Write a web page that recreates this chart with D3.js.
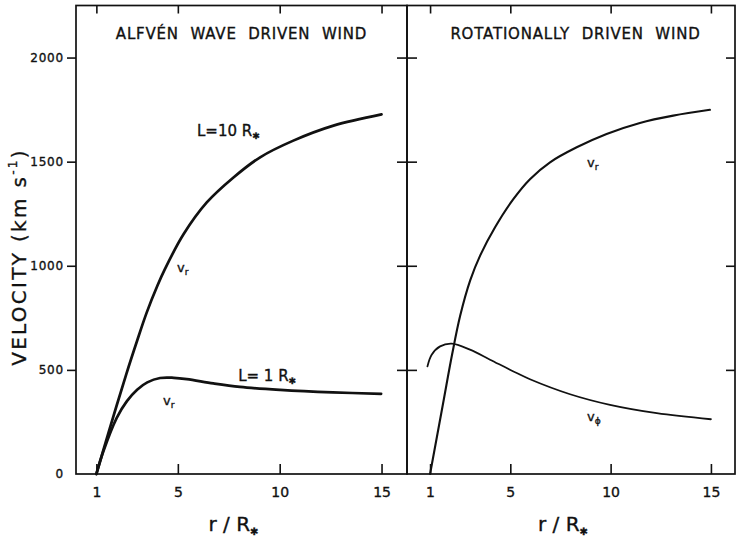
<!DOCTYPE html>
<html lang="en">
<head>
<meta charset="UTF-8">
<title>Velocity vs r / R*</title>
<script src="https://cdn.jsdelivr.net/npm/d3@7"></script>
<style>
    body { margin: 0; background: #fff; }
    svg { display: block; }
    .curve { fill: none; stroke: #111; stroke-linejoin: round; stroke-linecap: round; }
    text { font-family: "DejaVu Sans", sans-serif; fill: #111; stroke: #111; stroke-width: 0.35px; }
</style>
</head>
<body>
<script>
// tick labels
var xTicks = [1, 5, 10, 15];
var yTicks = [0, 500, 1000, 1500, 2000];

// Alfven wave driven wind, L = 10 R*
var rAlf10 = [1, 1.6, 2.47, 3.0, 3.47, 4.0, 4.37, 5.27, 6.42, 7.73, 9.04, 10.67, 12.64, 15.0];
var vAlf10 = [0, 200, 480, 640, 775, 905, 985, 1150, 1304, 1424, 1521, 1601, 1673, 1727];

// Alfven wave driven wind, L = 1 R*
var rAlf1 = [1, 1.34, 2.0, 2.5, 3.0, 3.5, 4.13, 4.8, 5.44, 6.74, 8.05, 10.02, 12.6, 14.98];
var vAlf1 = [0, 108, 270, 350, 405, 440, 461, 462, 456, 435, 418, 404, 392, 385];

// rotationally driven wind, v_r
var rRotR = [1, 1.65, 2.1, 2.5, 3.0, 3.5, 4.24, 5.15, 5.98, 6.98, 8.31, 9.80, 11.46, 13.12, 14.95];
var vRotR = [0, 340, 575, 760, 930, 1050, 1185, 1320, 1416, 1497, 1569, 1633, 1686, 1721, 1749];

// rotationally driven wind, v_phi
var rRotP = [0.87, 1.08, 1.5, 2.08, 2.99, 3.99, 5.32, 5.98, 7.98, 9.97, 12.3, 15.0];
var vRotP = [517, 573, 613, 626, 597, 549, 485, 455, 383, 332, 292, 263];

function zip(rs, vs) {
    return rs.map(function (r, i) { return [r, vs[i]]; });
}

var width = 737, height = 540;
var yTop = 5.5, yBottom = 474;

var svg = d3.select('body').append('svg')
    .attr('width', width)
    .attr('height', height);

var y = d3.scaleLinear().domain([0, 2250]).range([yBottom, yTop]);

var panels = [
    {
        x: d3.scaleLinear().domain([0, 16.25]).range([76, 407]),
        title: 'ALFVÉN WAVE DRIVEN WIND',
        titleX: 241.5,
        curves: [
            { pts: zip(rAlf10, vAlf10), w: 2.7 },
            { pts: zip(rAlf1, vAlf1), w: 2.7 }
        ],
        outerLeft: true
    },
    {
        x: d3.scaleLinear().domain([-0.15, 16.2]).range([407, 735]),
        title: 'ROTATIONALLY DRIVEN WIND',
        titleX: 575.5,
        curves: [
            { pts: zip(rRotR, vRotR), w: 2.1 },
            { pts: zip(rRotP, vRotP), w: 1.8 }
        ],
        outerLeft: false
    }
];

panels.forEach(function (p) {
    var x = p.x;
    var x0 = x.range()[0], x1 = x.range()[1];
    var g = svg.append('g');

    // frame
    g.append('rect')
        .attr('x', x0).attr('y', yTop)
        .attr('width', x1 - x0).attr('height', yBottom - yTop)
        .attr('fill', 'none').attr('stroke', '#111').attr('stroke-width', 1.7);

    // bottom ticks point up into the frame
    var gb = g.append('g')
        .attr('transform', 'translate(0,' + yBottom + ')')
        .call(d3.axisBottom(x).tickValues(xTicks).tickSize(-10).tickSizeOuter(0).tickPadding(13));
    gb.select('.domain').remove();

    // top ticks point down
    var gt = g.append('g')
        .attr('transform', 'translate(0,' + yTop + ')')
        .call(d3.axisTop(x).tickValues(xTicks).tickSize(-8).tickSizeOuter(0).tickFormat(''));
    gt.select('.domain').remove();

    // left side
    var gl = g.append('g')
        .attr('transform', 'translate(' + x0 + ',0)')
        .call(p.outerLeft
            ? d3.axisLeft(y).tickValues(yTicks).tickSize(9).tickSizeOuter(0).tickPadding(3).tickFormat(d3.format('d'))
            : d3.axisRight(y).tickValues(yTicks.slice(1)).tickSize(10).tickSizeOuter(0).tickFormat(''));
    gl.select('.domain').remove();
    gl.selectAll('.tick').filter(function (d) { return d === 0; }).select('line').remove();

    // right side
    var gr = g.append('g')
        .attr('transform', 'translate(' + x1 + ',0)')
        .call(d3.axisLeft(y).tickValues(yTicks.slice(1)).tickSize(p.outerLeft ? 10 : 9).tickSizeOuter(0).tickFormat(''));
    gr.select('.domain').remove();

    g.selectAll('.tick line').attr('stroke', '#111').attr('stroke-width', 1.6);
    g.selectAll('.tick text')
        .attr('font-family', '"DejaVu Sans", sans-serif')
        .attr('fill', '#111');
    gb.selectAll('.tick text').attr('font-size', 14);
    gl.selectAll('.tick text').attr('font-size', 12).attr('letter-spacing', 0.8);

    var line = d3.line()
        .x(function (d) { return x(d[0]); })
        .y(function (d) { return y(d[1]); })
        .curve(d3.curveCatmullRom.alpha(0.5));

    p.curves.forEach(function (c) {
        g.append('path')
            .attr('class', 'curve')
            .attr('stroke-width', c.w)
            .attr('d', line(c.pts));
    });

    g.append('text')
        .attr('x', p.titleX).attr('y', 34)
        .attr('dy', '0.36em')
        .attr('text-anchor', 'middle')
        .attr('font-size', 15)
        .attr('letter-spacing', 0.8)
        .attr('word-spacing', 6)
        .text(p.title);

    // r / R*
    var xl = g.append('text')
        .attr('x', (x0 + x1) / 2 - 8).attr('y', 531)
        .attr('text-anchor', 'middle')
        .attr('font-size', 20);
    xl.append('tspan').text('r / R');
    xl.append('tspan').attr('font-size', 10).attr('dy', 4).text('✱');
});

// curve annotations, positioned in data space
function label(px, r, v, main, sub, size) {
    var t = svg.append('text')
        .attr('x', px(r)).attr('y', y(v))
        .attr('dy', '0.36em')
        .attr('font-size', size);
    t.append('tspan').text(main);
    t.append('tspan')
        .attr('font-size', sub === '✱' ? size * 0.6 : size * 0.7)
        .attr('dy', 3)
        .text(sub);
}

var xA = panels[0].x, xB = panels[1].x;
label(xA, 5.94, 1647, 'L=10 R', '✱', 15);
label(xA, 4.96, 992, 'v', 'r', 13);
label(xA, 7.96, 472, 'L= 1 R', '✱', 15);
label(xA, 4.27, 356, 'v', 'r', 13);
label(xB, 8.82, 1498, 'v', 'r', 13);
label(xB, 8.82, 275, 'v', 'ϕ', 13);

// y axis title
svg.append('text')
    .attr('transform', 'translate(26,257) rotate(-90)')
    .attr('text-anchor', 'middle')
    .attr('font-size', 20)
    .attr('letter-spacing', 2.3)
    .html('VELOCITY  (km s<tspan font-size="12" dy="-9">-1</tspan><tspan dy="9">)</tspan>');
</script>
</body>
</html>
